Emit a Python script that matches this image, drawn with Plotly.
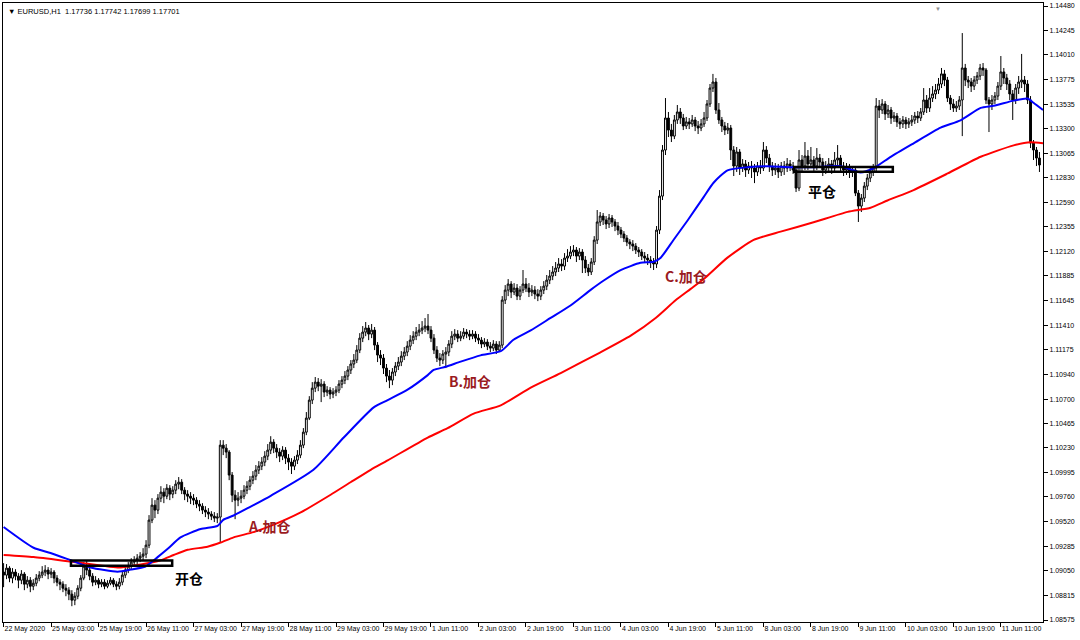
import plotly.graph_objects as go

# EURUSD H1, 22 May - 11 Jun 2020, MT4 chart with two moving averages
x_labels = ["22 May 2020", "25 May 03:00", "25 May 19:00", "26 May 11:00", "27 May 03:00",
            "27 May 19:00", "28 May 11:00", "29 May 03:00", "29 May 19:00", "1 Jun 11:00",
            "2 Jun 03:00", "2 Jun 19:00", "3 Jun 11:00", "4 Jun 03:00", "4 Jun 19:00",
            "5 Jun 11:00", "8 Jun 03:00", "8 Jun 19:00", "9 Jun 11:00", "10 Jun 03:00",
            "10 Jun 19:00", "11 Jun 11:00"]
y_ticks = [1.14480, 1.14245, 1.14010, 1.13775, 1.13535, 1.13300, 1.13065, 1.12830, 1.12590,
           1.12355, 1.12120, 1.11885, 1.11645, 1.11410, 1.11175, 1.10940, 1.10700, 1.10465,
           1.10230, 1.09995, 1.09760, 1.09520, 1.09285, 1.09050, 1.08815, 1.08575]

open_ = [
    1.09036, 1.09007, 1.09074, 1.08978, 1.09036, 1.08997, 1.08958, 1.09017, 1.08920, 1.08958, 1.08900, 1.08929, 1.08978, 1.09007, 1.09036, 1.09055,
    1.09017, 1.09036, 1.08978, 1.08939, 1.08920, 1.08881, 1.08862, 1.08824, 1.08766, 1.08804, 1.08881, 1.08978, 1.09093, 1.09055, 1.08997, 1.08939,
    1.08958, 1.08920, 1.08939, 1.08900, 1.08929, 1.08958, 1.08920, 1.08900, 1.08939, 1.09007, 1.09055, 1.09093, 1.09132, 1.09151, 1.09170, 1.09189,
    1.09209, 1.09295, 1.09536, 1.09680, 1.09632, 1.09747, 1.09805, 1.09766, 1.09843, 1.09786, 1.09824, 1.09882, 1.09901, 1.09824, 1.09786, 1.09766,
    1.09747, 1.09728, 1.09690, 1.09670, 1.09632, 1.09613, 1.09594, 1.09574, 1.09555, 1.09565, 1.10257, 1.10228, 1.10190, 1.09969, 1.09776, 1.09728,
    1.09747, 1.09766, 1.09824, 1.09862, 1.09920, 1.09959, 1.10017, 1.10055, 1.10094, 1.10151, 1.10209, 1.10286, 1.10228, 1.10190, 1.10151, 1.10209,
    1.10132, 1.10094, 1.10055, 1.10113, 1.10161, 1.10257, 1.10382, 1.10517, 1.10690, 1.10805, 1.10863, 1.10824, 1.10844, 1.10767, 1.10786, 1.10748,
    1.10767, 1.10786, 1.10844, 1.10882, 1.10921, 1.10979, 1.11037, 1.11075, 1.11171, 1.11286, 1.11344, 1.11383, 1.11325, 1.11363, 1.11219, 1.11123,
    1.11094, 1.10998, 1.10921, 1.10882, 1.10960, 1.11017, 1.11056, 1.11113, 1.11152, 1.11209, 1.11267, 1.11305, 1.11344, 1.11363, 1.11383, 1.11402,
    1.11363, 1.11286, 1.11171, 1.11094, 1.11075, 1.11133, 1.11152, 1.11229, 1.11305, 1.11325, 1.11286, 1.11305, 1.11344, 1.11325, 1.11305, 1.11325,
    1.11286, 1.11267, 1.11229, 1.11248, 1.11209, 1.11190, 1.11229, 1.11171, 1.11219, 1.11652, 1.11748, 1.11806, 1.11729, 1.11767, 1.11690, 1.11748,
    1.11806, 1.11767, 1.11729, 1.11748, 1.11710, 1.11690, 1.11748, 1.11786, 1.11844, 1.11883, 1.11922, 1.11960, 1.11999, 1.11979, 1.12056, 1.12075,
    1.12114, 1.12133, 1.12075, 1.12114, 1.12037, 1.11960, 1.11922, 1.12018, 1.12229, 1.12403, 1.12460, 1.12422, 1.12384, 1.12441, 1.12403, 1.12364,
    1.12325, 1.12287, 1.12248, 1.12210, 1.12191, 1.12171, 1.12133, 1.12114, 1.12075, 1.12056, 1.12037, 1.12018, 1.11999, 1.12325, 1.12652, 1.13095,
    1.13403, 1.13287, 1.13229, 1.13384, 1.13461, 1.13403, 1.13326, 1.13365, 1.13346, 1.13384, 1.13326, 1.13307, 1.13346, 1.13403, 1.13538, 1.13691,
    1.13749, 1.13480, 1.13384, 1.13326, 1.13287, 1.13307, 1.13095, 1.12941, 1.13076, 1.12922, 1.12961, 1.12903, 1.12941, 1.12922, 1.12884, 1.12941,
    1.12922, 1.13095, 1.13018, 1.12941, 1.12903, 1.12922, 1.12884, 1.12941, 1.12922, 1.12961, 1.12941, 1.12903, 1.12729, 1.12999, 1.12941, 1.13037,
    1.12961, 1.12999, 1.12941, 1.13018, 1.12980, 1.12903, 1.12941, 1.12961, 1.12922, 1.12999, 1.13018, 1.12941, 1.12903, 1.12922, 1.12884, 1.12903,
    1.12681, 1.12556, 1.12633, 1.12748, 1.12826, 1.12884, 1.12922, 1.13518, 1.13480, 1.13538, 1.13442, 1.13480, 1.13403, 1.13422, 1.13365, 1.13346,
    1.13384, 1.13346, 1.13365, 1.13384, 1.13422, 1.13403, 1.13461, 1.13576, 1.13499, 1.13595, 1.13634, 1.13672, 1.13730, 1.13827, 1.13768, 1.13595,
    1.13538, 1.13499, 1.13518, 1.13576, 1.13884, 1.13768, 1.13749, 1.13710, 1.13768, 1.13807, 1.13884, 1.13865, 1.13576, 1.13538, 1.13576, 1.13614,
    1.13710, 1.13846, 1.13788, 1.13730, 1.13634, 1.13576, 1.13691, 1.13749, 1.13768, 1.13730, 1.13576, 1.13162, 1.13095, 1.13018,
]
high = [
    1.09122, 1.09113, 1.09093, 1.09074, 1.09064, 1.09026, 1.09055, 1.09036, 1.08997, 1.08988, 1.08968, 1.09017, 1.09045, 1.09093, 1.09103, 1.09084,
    1.09074, 1.09055, 1.09007, 1.08968, 1.08948, 1.08920, 1.08891, 1.08862, 1.08843, 1.08910, 1.09007, 1.09132, 1.09141, 1.09093, 1.09026, 1.08997,
    1.08978, 1.08968, 1.08968, 1.08958, 1.08988, 1.08978, 1.08948, 1.08978, 1.09045, 1.09093, 1.09132, 1.09170, 1.09189, 1.09209, 1.09228, 1.09266,
    1.09343, 1.09584, 1.09747, 1.09728, 1.09786, 1.09862, 1.09843, 1.09882, 1.09872, 1.09862, 1.09920, 1.09950, 1.09930, 1.09853, 1.09824, 1.09805,
    1.09786, 1.09757, 1.09728, 1.09699, 1.09670, 1.09651, 1.09622, 1.09613, 1.09603, 1.10305, 1.10305, 1.10267, 1.10209, 1.09998, 1.09824, 1.09805,
    1.09824, 1.09872, 1.09910, 1.09959, 1.10007, 1.10065, 1.10103, 1.10142, 1.10199, 1.10267, 1.10343, 1.10314, 1.10267, 1.10228, 1.10247, 1.10238,
    1.10171, 1.10132, 1.10151, 1.10209, 1.10305, 1.10421, 1.10575, 1.10728, 1.10863, 1.10912, 1.10902, 1.10892, 1.10872, 1.10824, 1.10815, 1.10805,
    1.10824, 1.10882, 1.10921, 1.10969, 1.11017, 1.11075, 1.11133, 1.11219, 1.11334, 1.11402, 1.11441, 1.11412, 1.11422, 1.11393, 1.11248, 1.11171,
    1.11133, 1.11037, 1.10979, 1.10998, 1.11056, 1.11104, 1.11161, 1.11200, 1.11257, 1.11315, 1.11353, 1.11393, 1.11422, 1.11450, 1.11479, 1.11518,
    1.11402, 1.11325, 1.11209, 1.11142, 1.11171, 1.11200, 1.11267, 1.11353, 1.11373, 1.11363, 1.11353, 1.11383, 1.11373, 1.11363, 1.11363, 1.11353,
    1.11325, 1.11296, 1.11286, 1.11276, 1.11248, 1.11267, 1.11257, 1.11257, 1.11690, 1.11796, 1.11854, 1.11834, 1.11815, 1.11806, 1.11786, 1.11941,
    1.11864, 1.11815, 1.11796, 1.11786, 1.11757, 1.11786, 1.11834, 1.11893, 1.11941, 1.11979, 1.12018, 1.12056, 1.12046, 1.12104, 1.12142, 1.12171,
    1.12181, 1.12162, 1.12152, 1.12142, 1.12075, 1.11999, 1.12056, 1.12267, 1.12518, 1.12499, 1.12489, 1.12460, 1.12480, 1.12470, 1.12431, 1.12403,
    1.12355, 1.12315, 1.12277, 1.12238, 1.12229, 1.12200, 1.12162, 1.12142, 1.12114, 1.12095, 1.12075, 1.12056, 1.12364, 1.12710, 1.13143, 1.13595,
    1.13461, 1.13346, 1.13432, 1.13528, 1.13499, 1.13442, 1.13413, 1.13403, 1.13432, 1.13413, 1.13374, 1.13393, 1.13461, 1.13576, 1.13730, 1.13827,
    1.13788, 1.13547, 1.13413, 1.13365, 1.13355, 1.13336, 1.13133, 1.13124, 1.13104, 1.13008, 1.12999, 1.12980, 1.12989, 1.12961, 1.12980, 1.12999,
    1.13172, 1.13133, 1.13057, 1.12980, 1.12970, 1.12961, 1.12980, 1.12989, 1.13018, 1.12999, 1.12980, 1.12941, 1.13095, 1.13047, 1.13172, 1.13095,
    1.13124, 1.13037, 1.13114, 1.13057, 1.13018, 1.12989, 1.13018, 1.12999, 1.13076, 1.13143, 1.13047, 1.12980, 1.12970, 1.12961, 1.12941, 1.12932,
    1.12710, 1.12672, 1.12787, 1.12865, 1.12922, 1.12961, 1.13595, 1.13576, 1.13585, 1.13566, 1.13528, 1.13509, 1.13461, 1.13451, 1.13403, 1.13422,
    1.13413, 1.13403, 1.13432, 1.13461, 1.13470, 1.13499, 1.13691, 1.13624, 1.13691, 1.13710, 1.13730, 1.13788, 1.13884, 1.13865, 1.13798, 1.13624,
    1.13585, 1.13566, 1.13614, 1.14220, 1.13923, 1.13807, 1.13788, 1.13807, 1.13846, 1.13923, 1.13932, 1.13884, 1.13605, 1.13624, 1.13653, 1.13749,
    1.13999, 1.13884, 1.13827, 1.13768, 1.13672, 1.13730, 1.13807, 1.14019, 1.13807, 1.13768, 1.13614, 1.13191, 1.13124, 1.13076,
]
low = [
    1.08891, 1.08968, 1.08939, 1.08929, 1.08958, 1.08881, 1.08920, 1.08862, 1.08881, 1.08843, 1.08862, 1.08900, 1.08948, 1.08978, 1.08997, 1.08968,
    1.08978, 1.08929, 1.08900, 1.08862, 1.08843, 1.08804, 1.08766, 1.08708, 1.08718, 1.08775, 1.08852, 1.08958, 1.09007, 1.08958, 1.08900, 1.08910,
    1.08881, 1.08891, 1.08871, 1.08881, 1.08910, 1.08891, 1.08862, 1.08871, 1.08910, 1.08978, 1.09026, 1.09064, 1.09093, 1.09113, 1.09132, 1.09151,
    1.09170, 1.09266, 1.09507, 1.09555, 1.09594, 1.09709, 1.09699, 1.09737, 1.09728, 1.09747, 1.09786, 1.09833, 1.09786, 1.09728, 1.09709, 1.09690,
    1.09680, 1.09651, 1.09622, 1.09594, 1.09565, 1.09545, 1.09536, 1.09517, 1.09507, 1.09324, 1.10161, 1.10132, 1.09920, 1.09709, 1.09545, 1.09670,
    1.09699, 1.09737, 1.09786, 1.09824, 1.09882, 1.09920, 1.09979, 1.10017, 1.10055, 1.10113, 1.10171, 1.10180, 1.10132, 1.10094, 1.10113, 1.10075,
    1.10017, 1.09979, 1.10017, 1.10075, 1.10132, 1.10228, 1.10353, 1.10498, 1.10652, 1.10767, 1.10776, 1.10671, 1.10719, 1.10728, 1.10699, 1.10709,
    1.10728, 1.10757, 1.10805, 1.10844, 1.10882, 1.10941, 1.10998, 1.11046, 1.11142, 1.11248, 1.11305, 1.11267, 1.11286, 1.11171, 1.11056, 1.11027,
    1.10941, 1.10863, 1.10805, 1.10834, 1.10921, 1.10979, 1.11017, 1.11075, 1.11113, 1.11171, 1.11229, 1.11267, 1.11305, 1.11325, 1.11344, 1.11325,
    1.11248, 1.11133, 1.11056, 1.11017, 1.11037, 1.10998, 1.11113, 1.11190, 1.11267, 1.11248, 1.11257, 1.11276, 1.11286, 1.11267, 1.11276, 1.11248,
    1.11229, 1.11190, 1.11200, 1.11171, 1.11152, 1.11161, 1.11133, 1.11152, 1.11190, 1.11614, 1.11690, 1.11671, 1.11700, 1.11652, 1.11652, 1.11719,
    1.11729, 1.11681, 1.11690, 1.11661, 1.11642, 1.11652, 1.11710, 1.11748, 1.11806, 1.11844, 1.11883, 1.11922, 1.11931, 1.11941, 1.12018, 1.12046,
    1.12075, 1.12018, 1.12037, 1.11912, 1.11912, 1.11883, 1.11893, 1.11989, 1.12191, 1.12364, 1.12374, 1.12335, 1.12345, 1.12355, 1.12315, 1.12277,
    1.12248, 1.12210, 1.12171, 1.12142, 1.12123, 1.12095, 1.12066, 1.12037, 1.12008, 1.11989, 1.11960, 1.11941, 1.11960, 1.12287, 1.12614, 1.13047,
    1.13220, 1.13172, 1.13200, 1.13346, 1.13346, 1.13287, 1.13297, 1.13297, 1.13317, 1.13277, 1.13249, 1.13277, 1.13317, 1.13374, 1.13509, 1.13653,
    1.13442, 1.13346, 1.13268, 1.13239, 1.13249, 1.12999, 1.12845, 1.12884, 1.12855, 1.12884, 1.12836, 1.12865, 1.12826, 1.12777, 1.12845, 1.12865,
    1.12893, 1.12970, 1.12884, 1.12845, 1.12855, 1.12826, 1.12845, 1.12855, 1.12884, 1.12893, 1.12865, 1.12691, 1.12700, 1.12893, 1.12903, 1.12903,
    1.12922, 1.12893, 1.12903, 1.12922, 1.12845, 1.12865, 1.12893, 1.12865, 1.12884, 1.12941, 1.12884, 1.12845, 1.12855, 1.12826, 1.12836, 1.12652,
    1.12403, 1.12499, 1.12595, 1.12710, 1.12787, 1.12845, 1.12893, 1.13403, 1.13442, 1.13384, 1.13403, 1.13346, 1.13365, 1.13317, 1.13297, 1.13307,
    1.13297, 1.13307, 1.13326, 1.13346, 1.13355, 1.13374, 1.13432, 1.13451, 1.13461, 1.13557, 1.13585, 1.13634, 1.13691, 1.13710, 1.13557, 1.13480,
    1.13461, 1.13461, 1.13480, 1.13229, 1.13710, 1.13691, 1.13653, 1.13672, 1.13730, 1.13768, 1.13807, 1.13538, 1.13268, 1.13480, 1.13538, 1.13576,
    1.13672, 1.13730, 1.13672, 1.13576, 1.13384, 1.13538, 1.13634, 1.13691, 1.13653, 1.13538, 1.13114, 1.12999, 1.12941, 1.12884,
]
close = [
    1.09007, 1.09074, 1.08978, 1.09036, 1.08997, 1.08958, 1.09017, 1.08920, 1.08958, 1.08900, 1.08929, 1.08978, 1.09007, 1.09036, 1.09055, 1.09017,
    1.09036, 1.08978, 1.08939, 1.08920, 1.08881, 1.08862, 1.08824, 1.08766, 1.08804, 1.08881, 1.08978, 1.09093, 1.09055, 1.08997, 1.08939, 1.08958,
    1.08920, 1.08939, 1.08900, 1.08929, 1.08958, 1.08920, 1.08900, 1.08939, 1.09007, 1.09055, 1.09093, 1.09132, 1.09151, 1.09170, 1.09189, 1.09209,
    1.09295, 1.09536, 1.09680, 1.09632, 1.09747, 1.09805, 1.09766, 1.09843, 1.09786, 1.09824, 1.09882, 1.09901, 1.09824, 1.09786, 1.09766, 1.09747,
    1.09728, 1.09690, 1.09670, 1.09632, 1.09613, 1.09594, 1.09574, 1.09555, 1.09565, 1.10257, 1.10228, 1.10190, 1.09969, 1.09776, 1.09728, 1.09747,
    1.09766, 1.09824, 1.09862, 1.09920, 1.09959, 1.10017, 1.10055, 1.10094, 1.10151, 1.10209, 1.10286, 1.10228, 1.10190, 1.10151, 1.10209, 1.10132,
    1.10094, 1.10055, 1.10113, 1.10161, 1.10257, 1.10382, 1.10517, 1.10690, 1.10805, 1.10863, 1.10824, 1.10844, 1.10767, 1.10786, 1.10748, 1.10767,
    1.10786, 1.10844, 1.10882, 1.10921, 1.10979, 1.11037, 1.11075, 1.11171, 1.11286, 1.11344, 1.11383, 1.11325, 1.11363, 1.11219, 1.11123, 1.11094,
    1.10998, 1.10921, 1.10882, 1.10960, 1.11017, 1.11056, 1.11113, 1.11152, 1.11209, 1.11267, 1.11305, 1.11344, 1.11363, 1.11383, 1.11402, 1.11363,
    1.11286, 1.11171, 1.11094, 1.11075, 1.11133, 1.11152, 1.11229, 1.11305, 1.11325, 1.11286, 1.11305, 1.11344, 1.11325, 1.11305, 1.11325, 1.11286,
    1.11267, 1.11229, 1.11248, 1.11209, 1.11190, 1.11229, 1.11171, 1.11219, 1.11652, 1.11748, 1.11806, 1.11729, 1.11767, 1.11690, 1.11748, 1.11806,
    1.11767, 1.11729, 1.11748, 1.11710, 1.11690, 1.11748, 1.11786, 1.11844, 1.11883, 1.11922, 1.11960, 1.11999, 1.11979, 1.12056, 1.12075, 1.12114,
    1.12133, 1.12075, 1.12114, 1.12037, 1.11960, 1.11922, 1.12018, 1.12229, 1.12403, 1.12460, 1.12422, 1.12384, 1.12441, 1.12403, 1.12364, 1.12325,
    1.12287, 1.12248, 1.12210, 1.12191, 1.12171, 1.12133, 1.12114, 1.12075, 1.12056, 1.12037, 1.12018, 1.11999, 1.12325, 1.12652, 1.13095, 1.13403,
    1.13287, 1.13229, 1.13384, 1.13461, 1.13403, 1.13326, 1.13365, 1.13346, 1.13384, 1.13326, 1.13307, 1.13346, 1.13403, 1.13538, 1.13691, 1.13749,
    1.13480, 1.13384, 1.13326, 1.13287, 1.13307, 1.13095, 1.12941, 1.13076, 1.12922, 1.12961, 1.12903, 1.12941, 1.12922, 1.12884, 1.12941, 1.12922,
    1.13095, 1.13018, 1.12941, 1.12903, 1.12922, 1.12884, 1.12941, 1.12922, 1.12961, 1.12941, 1.12903, 1.12729, 1.12999, 1.12941, 1.13037, 1.12961,
    1.12999, 1.12941, 1.13018, 1.12980, 1.12903, 1.12941, 1.12961, 1.12922, 1.12999, 1.13018, 1.12941, 1.12903, 1.12922, 1.12884, 1.12903, 1.12681,
    1.12556, 1.12633, 1.12748, 1.12826, 1.12884, 1.12922, 1.13518, 1.13480, 1.13538, 1.13442, 1.13480, 1.13403, 1.13422, 1.13365, 1.13346, 1.13384,
    1.13346, 1.13365, 1.13384, 1.13422, 1.13403, 1.13461, 1.13576, 1.13499, 1.13595, 1.13634, 1.13672, 1.13730, 1.13827, 1.13768, 1.13595, 1.13538,
    1.13499, 1.13518, 1.13576, 1.13884, 1.13768, 1.13749, 1.13710, 1.13768, 1.13807, 1.13884, 1.13865, 1.13576, 1.13538, 1.13576, 1.13614, 1.13710,
    1.13846, 1.13788, 1.13730, 1.13634, 1.13576, 1.13691, 1.13749, 1.13768, 1.13730, 1.13576, 1.13162, 1.13095, 1.13018, 1.12951,
]

# moving averages at a set of bars (bar index, price)
ma_fast_bar = [0, 10.1, 15.8, 22.6, 29.3, 38.4, 42.8, 47.8, 51.9, 55.3, 59.6, 66.4, 72.1, 74.1, 77.5,
               82.2, 90.0, 104.4, 114.6, 124.7, 129.4, 136.1, 142.9, 144.9, 148.9, 154.0, 160.7, 167.5,
               171.8, 177.6, 184.3, 191.0, 197.8, 202.2, 207.9, 214.6, 219.0, 221.4, 225.7, 230.5, 235.8,
               239.2, 243.9, 250.7, 257.4, 265.2, 272.9, 282.0, 288.7, 293.1, 298.9, 306.6, 315.7, 322.4,
               329.2, 333.6, 340.3, 345.0, 347.0, 350.2]
ma_fast = [1.0947, 1.0927, 1.0922, 1.0915, 1.0908, 1.0904, 1.0906, 1.0909, 1.0918, 1.0926, 1.0937, 1.0945,
           1.0948, 1.0954, 1.0958, 1.0965, 1.0977, 1.1002, 1.1033, 1.1062, 1.1069, 1.1079, 1.1093, 1.1098,
           1.1101, 1.1106, 1.1112, 1.1116, 1.1127, 1.1136, 1.1148, 1.1160, 1.1175, 1.1184, 1.1194, 1.1201,
           1.1202, 1.1206, 1.1223, 1.1242, 1.1264, 1.1278, 1.1290, 1.1293, 1.1294, 1.1293, 1.1293, 1.1294,
           1.1288, 1.1292, 1.1303, 1.1316, 1.1331, 1.1338, 1.1350, 1.1352, 1.1357, 1.1359, 1.1355, 1.1348]
ma_slow_bar = [0, 10.1, 21.6, 32.7, 38.4, 46.2, 52.9, 57.3, 62.0, 68.7, 73.1, 77.5, 84.2, 90.0, 100.1,
               110.2, 116.9, 123.7, 129.4, 142.9, 149.6, 158.4, 167.5, 177.6, 187.7, 201.1, 211.3, 219.7,
               226.4, 231.5, 236.5, 243.9, 252.7, 261.8, 272.9, 284.4, 292.1, 297.8, 306.6, 318.1, 329.2,
               340.3, 346.0, 350.2]
ma_slow = [1.0920, 1.0918, 1.0914, 1.0910, 1.0908, 1.0911, 1.0915, 1.0920, 1.0925, 1.0928, 1.0932, 1.0937,
           1.0942, 1.0948, 1.0961, 1.0978, 1.0990, 1.1002, 1.1011, 1.1033, 1.1042, 1.1056, 1.1064, 1.1081,
           1.1095, 1.1115, 1.1131, 1.1148, 1.1165, 1.1176, 1.1187, 1.1206, 1.1223, 1.1231, 1.1240, 1.1250,
           1.1254, 1.1261, 1.1271, 1.1287, 1.1303, 1.1314, 1.1317, 1.1316]

# trade notes drawn on the chart
note_text = ["开仓", "A.加仓", "B.加仓", "C.加仓", "平仓"]
note_bar = [62.3, 89.6, 157.3, 229.8, 275.6]
note_price = [1.08978, 1.09478, 1.10872, 1.11883, 1.12700]
note_color = ["black", "#9a1b1f", "#9a1b1f", "#9a1b1f", "black"]

# entry / exit boxes (bar from, bar to, price low, price high)
box_bar0 = [22.7, 266.4]
box_bar1 = [56.8, 299.6]
box_low = [1.09096, 1.12887]
box_high = [1.09148, 1.12932]

bar = list(range(len(close)))
tick_bars = list(range(0, len(close), 16))  # MT4 puts a time label every 16 bars here

small = dict(family="Liberation Sans, Arial, sans-serif", size=7, color="black")

fig = go.Figure()
fig.add_trace(go.Candlestick(
    x=bar, open=open_, high=high, low=low, close=close,
    increasing=dict(line=dict(color="black", width=1), fillcolor="white"),
    decreasing=dict(line=dict(color="black", width=1), fillcolor="black"),
    whiskerwidth=0, hoverinfo="skip", showlegend=False))
fig.add_trace(go.Scatter(
    x=ma_slow_bar, y=ma_slow, mode="lines", hoverinfo="skip", showlegend=False,
    line=dict(color="#ff0000", width=2, shape="spline", smoothing=0.6)))
fig.add_trace(go.Scatter(
    x=ma_fast_bar, y=ma_fast, mode="lines", hoverinfo="skip", showlegend=False,
    line=dict(color="#0000ff", width=2, shape="spline", smoothing=0.6)))

for b0, b1, lo, hi in zip(box_bar0, box_bar1, box_low, box_high):
    fig.add_shape(type="rect", xref="x", yref="y", x0=b0, x1=b1, y0=lo, y1=hi,
                  line=dict(color="black", width=2.5), fillcolor="rgba(0,0,0,0)")

for t, b, p, c in zip(note_text, note_bar, note_price, note_color):
    fig.add_annotation(x=b, y=p, text="<b>" + t + "</b>", showarrow=False,
                       font=dict(family="Noto Sans CJK SC", size=14, color=c))

fig.add_annotation(xref="paper", yref="paper", x=0, y=1, xanchor="left", yanchor="top",
                   xshift=3, yshift=-2, showarrow=False,
                   text="▼ EURUSD,H1  1.17736 1.17742 1.17699 1.17701",
                   font=dict(family="Liberation Sans, Arial, sans-serif", size=7.5, color="black"))
fig.add_annotation(xref="paper", yref="paper", x=0.899, y=1, xanchor="center", yanchor="top",
                   showarrow=False, text="▼", font=dict(size=6, color="#909090"))

fig.update_layout(
    width=1080, height=640,
    margin=dict(l=3, r=37, t=3, b=18, autoexpand=False),
    paper_bgcolor="white", plot_bgcolor="white",
    boxgap=0.1,
    xaxis=dict(range=[-0.2, 350.2], tickvals=tick_bars, ticktext=x_labels, tickangle=0,
               ticks="outside", ticklen=4, tickcolor="black", ticklabelposition="outside right",
               tickfont=small, showline=True, linecolor="black", linewidth=1, mirror=True,
               showgrid=False, zeroline=False, rangeslider=dict(visible=False), fixedrange=True,
               automargin=False),
    yaxis=dict(side="right", range=[1.08556, 1.14509], tickvals=y_ticks,
               ticktext=["%.5f" % v for v in y_ticks],
               ticks="outside", ticklen=4, tickcolor="black", tickfont=small,
               showline=True, linecolor="black", linewidth=1, mirror=True,
               showgrid=False, zeroline=False, fixedrange=True, automargin=False),
)

# the page's default 8px body margin would push the 1080x640 figure out of the window
fig.write_html("out.html", config=dict(displayModeBar=False),
               post_script="document.body.style.margin='0';")
